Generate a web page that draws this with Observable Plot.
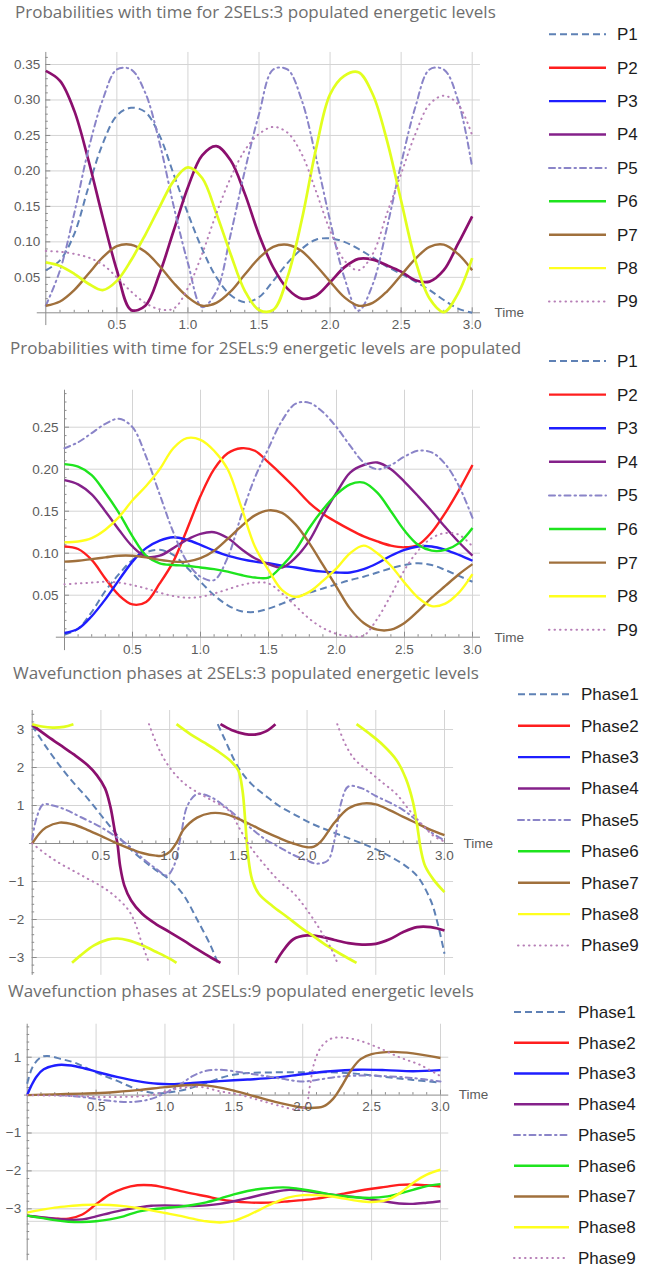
<!DOCTYPE html>
<html><head><meta charset="utf-8">
<script src="https://cdn.jsdelivr.net/npm/d3@7"></script>
<script src="https://cdn.jsdelivr.net/npm/@observablehq/plot@0.6"></script>
<style>
body{margin:0;background:#fff;}
#root{position:relative;width:657px;height:1268px;overflow:hidden;font-family:"Liberation Sans",Arial,sans-serif;background:#fff;}
.title{position:absolute;font-family:"Open Sans","Liberation Sans",sans-serif;font-size:17px;line-height:20px;color:#6e6e6e;white-space:nowrap;}
</style></head>
<body><div id="root"></div>
<script>
// ---------------- data ----------------
const time = [0,0.1,0.2,0.3,0.4,0.5,0.6,0.7,0.8,0.9,1.0,1.1,1.2,1.3,1.4,1.5,1.6,1.7,1.8,1.9,2.0,2.1,2.2,2.3,2.4,2.5,2.6,2.7,2.8,2.9,3.0];
const probNames = ["P1","P2","P3","P4","P5","P6","P7","P8","P9"];
const phaseNames = ["Phase1","Phase2","Phase3","Phase4","Phase5","Phase6","Phase7","Phase8","Phase9"];
const titles = [
  "Probabilities with time for 2SELs:3 populated energetic levels",
  "Probabilities with time for 2SELs:9 energetic levels are populated",
  "Wavefunction phases at 2SELs:3 populated energetic levels",
  "Wavefunction phases at 2SELs:9 populated energetic levels"
];
const xMajor = [0.5,1.0,1.5,2.0,2.5,3.0];
const xMinor = [0.1,0.2,0.3,0.4,0.6,0.7,0.8,0.9,1.1,1.2,1.3,1.4,1.6,1.7,1.8,1.9,2.1,2.2,2.3,2.4,2.6,2.7,2.8,2.9];
const yTicks1 = [0.05,0.10,0.15,0.20,0.25,0.30,0.35];
const yTicks2 = [0.05,0.10,0.15,0.20,0.25];
const yTicks3 = [-3,-2,-1,1,2,3];
const yTicks4 = [-3,-2,-1,1];
const yGrid4 = [1,-1,-2,-3,-3.33];

// panel 1: probabilities, 3 populated levels
const p3_P1 = [0.06,0.074,0.111,0.177,0.238,0.278,0.289,0.283,0.25,0.195,0.14,0.09,0.05,0.025,0.015,0.022,0.045,0.07,0.09,0.103,0.105,0.1,0.09,0.078,0.065,0.055,0.044,0.032,0.018,0.006,0.0];
const p3_P4 = [0.341,0.327,0.285,0.215,0.135,0.06,0.004,0.01,0.055,0.116,0.177,0.222,0.235,0.215,0.168,0.11,0.064,0.034,0.02,0.024,0.043,0.064,0.076,0.075,0.067,0.058,0.046,0.044,0.06,0.097,0.136];
const p3_P5 = [0.01,0.06,0.14,0.23,0.30,0.343,0.343,0.31,0.24,0.15,0.07,0.008,0.03,0.11,0.2,0.28,0.343,0.343,0.3,0.22,0.13,0.05,0.003,0.04,0.12,0.21,0.29,0.343,0.343,0.3,0.205];
const p3_P7 = [0.01,0.016,0.032,0.055,0.078,0.094,0.096,0.086,0.066,0.042,0.022,0.01,0.014,0.03,0.054,0.077,0.093,0.096,0.087,0.067,0.044,0.022,0.01,0.014,0.03,0.053,0.076,0.093,0.096,0.083,0.06];
const p3_P8 = [0.071,0.066,0.055,0.041,0.032,0.045,0.074,0.11,0.149,0.186,0.205,0.19,0.14,0.083,0.031,0.004,0.004,0.05,0.13,0.23,0.308,0.334,0.339,0.308,0.243,0.158,0.074,0.02,0.001,0.027,0.077];
const p3_P9 = [0.087,0.086,0.083,0.078,0.068,0.05,0.03,0.014,0.005,0.006,0.035,0.083,0.14,0.19,0.229,0.252,0.262,0.254,0.224,0.172,0.116,0.074,0.06,0.083,0.14,0.196,0.252,0.294,0.306,0.294,0.25];

// panel 2: probabilities, 9 populated levels
const p9_P1 = [0.003,0.01,0.03,0.055,0.075,0.092,0.101,0.104,0.098,0.083,0.066,0.05,0.038,0.031,0.03,0.034,0.04,0.047,0.053,0.058,0.063,0.068,0.072,0.077,0.082,0.086,0.088,0.086,0.08,0.073,0.066];
const p9_P2 = [0.108,0.105,0.092,0.07,0.05,0.039,0.042,0.064,0.09,0.128,0.168,0.2,0.219,0.225,0.222,0.208,0.193,0.177,0.16,0.147,0.137,0.128,0.12,0.114,0.109,0.107,0.11,0.125,0.148,0.175,0.205];
const p9_P3 = [0.005,0.01,0.025,0.045,0.068,0.09,0.106,0.115,0.119,0.116,0.11,0.103,0.097,0.093,0.09,0.088,0.085,0.083,0.08,0.078,0.077,0.077,0.081,0.088,0.097,0.104,0.108,0.108,0.104,0.098,0.091];
const p9_P4 = [0.187,0.182,0.17,0.15,0.128,0.108,0.096,0.097,0.106,0.116,0.123,0.125,0.118,0.105,0.094,0.087,0.083,0.095,0.115,0.145,0.172,0.196,0.205,0.208,0.2,0.185,0.168,0.15,0.131,0.113,0.097];
const p9_P5 = [0.225,0.232,0.243,0.254,0.26,0.25,0.215,0.17,0.125,0.09,0.072,0.068,0.095,0.145,0.19,0.225,0.258,0.278,0.279,0.268,0.25,0.228,0.208,0.2,0.205,0.215,0.222,0.22,0.206,0.18,0.142];
const p9_P6 = [0.206,0.203,0.193,0.172,0.148,0.12,0.097,0.088,0.086,0.085,0.083,0.081,0.078,0.074,0.071,0.071,0.085,0.104,0.13,0.152,0.17,0.182,0.184,0.172,0.15,0.127,0.11,0.103,0.104,0.112,0.13];
const p9_P7 = [0.09,0.091,0.093,0.095,0.097,0.097,0.095,0.092,0.09,0.09,0.094,0.103,0.117,0.132,0.145,0.151,0.148,0.134,0.112,0.086,0.06,0.034,0.017,0.009,0.009,0.017,0.031,0.047,0.061,0.075,0.087];
const p9_P8 = [0.113,0.114,0.118,0.128,0.143,0.163,0.18,0.2,0.225,0.237,0.235,0.222,0.2,0.155,0.108,0.08,0.056,0.048,0.054,0.067,0.082,0.1,0.109,0.1,0.085,0.065,0.047,0.037,0.04,0.053,0.075];
const p9_P9 = [0.063,0.064,0.065,0.066,0.065,0.062,0.058,0.053,0.049,0.047,0.048,0.052,0.057,0.062,0.065,0.064,0.052,0.037,0.022,0.011,0.004,0.001,0.002,0.022,0.05,0.08,0.103,0.118,0.124,0.122,0.108];

// panel 3: phases, 3 populated levels ([time, phase] pairs, null = wrap break)
const ph3_1 = [[0,3.1],[0.1,2.55],[0.2,2.05],[0.3,1.6],[0.4,1.2],[0.5,0.75],[0.6,0.3],[0.7,-0.1],[0.8,-0.42],[0.9,-0.7],[1.0,-0.95],[1.1,-1.35],[1.2,-2.0],[1.3,-2.7],[1.35,-3.14],null,
  [1.35,3.14],[1.4,2.75],[1.5,2.0],[1.6,1.55],[1.7,1.25],[1.8,0.98],[1.9,0.78],[2.0,0.58],[2.1,0.42],[2.2,0.28],[2.3,0.14],[2.4,0.0],[2.5,-0.15],[2.6,-0.33],[2.7,-0.55],[2.8,-0.85],[2.9,-1.5],[2.95,-2.1],[3.0,-2.9]];
const ph3_4 = [[0,3.12],[0.1,2.85],[0.2,2.6],[0.3,2.35],[0.4,2.07],[0.47,1.8],[0.53,1.45],[0.57,0.95],[0.6,0.35],[0.62,0],[0.64,-0.6],[0.67,-1.1],[0.72,-1.5],[0.8,-1.85],[0.9,-2.12],[1.0,-2.33],[1.1,-2.55],[1.2,-2.78],[1.3,-3.0],[1.37,-3.14],null,
  [1.37,3.14],[1.45,2.99],[1.55,2.88],[1.63,2.87],[1.7,2.95],[1.77,3.14],null,
  [1.77,-3.14],[1.82,-2.85],[1.9,-2.52],[2.0,-2.42],[2.1,-2.45],[2.2,-2.54],[2.3,-2.62],[2.4,-2.66],[2.5,-2.64],[2.6,-2.52],[2.7,-2.33],[2.8,-2.2],[2.9,-2.2],[3.0,-2.29]];
const ph3_5 = [[0,0.1],[0.03,0.65],[0.08,1.03],[0.15,1.0],[0.25,0.88],[0.35,0.7],[0.5,0.43],[0.6,0.2],[0.7,-0.05],[0.8,-0.38],[0.9,-0.66],[0.98,-0.84],[1.03,-0.6],[1.08,0.17],[1.13,1.0],[1.2,1.3],[1.3,1.22],[1.4,0.98],[1.5,0.68],[1.6,0.38],[1.7,0.1],[1.8,-0.1],[1.9,-0.3],[2.0,-0.45],[2.07,-0.53],[2.15,-0.45],[2.2,0.1],[2.25,1.1],[2.3,1.5],[2.4,1.45],[2.5,1.25],[2.6,1.08],[2.7,0.88],[2.8,0.6],[2.9,0.3],[3.0,0.08]];
const ph3_7 = [[0,0],[0.05,0.25],[0.1,0.42],[0.2,0.55],[0.3,0.5],[0.4,0.36],[0.5,0.2],[0.6,0.03],[0.7,-0.12],[0.8,-0.25],[0.9,-0.32],[0.95,-0.32],[1.0,-0.22],[1.05,0.02],[1.1,0.36],[1.2,0.68],[1.3,0.8],[1.4,0.78],[1.5,0.65],[1.6,0.48],[1.7,0.3],[1.8,0.14],[1.9,0.0],[2.0,-0.1],[2.05,-0.08],[2.1,0.05],[2.2,0.55],[2.3,0.92],[2.4,1.05],[2.5,1.03],[2.6,0.88],[2.7,0.7],[2.8,0.53],[2.9,0.36],[3.0,0.22]];
const ph3_8 = [[0,3.14],[0.07,3.08],[0.15,3.05],[0.23,3.07],[0.3,3.14],null,
  [0.29,-3.14],[0.35,-2.95],[0.45,-2.68],[0.55,-2.53],[0.62,-2.5],[0.7,-2.55],[0.8,-2.68],[0.9,-2.85],[1.0,-3.03],[1.05,-3.14],null,
  [1.05,3.14],[1.15,2.88],[1.25,2.66],[1.35,2.43],[1.45,2.15],[1.5,1.92],[1.53,1.4],[1.55,0.6],[1.57,-0.3],[1.6,-0.95],[1.65,-1.33],[1.75,-1.65],[1.85,-1.92],[1.95,-2.2],[2.05,-2.45],[2.15,-2.7],[2.25,-2.92],[2.36,-3.14],null,
  [2.36,3.14],[2.45,2.9],[2.55,2.6],[2.65,2.2],[2.72,1.7],[2.77,1.1],[2.8,0.5],[2.83,-0.2],[2.86,-0.6],[2.92,-0.95],[3.0,-1.28]];
const ph3_9 = [[0,0],[0.1,-0.28],[0.2,-0.52],[0.3,-0.72],[0.4,-0.92],[0.5,-1.12],[0.6,-1.38],[0.7,-1.75],[0.75,-2.1],[0.8,-2.65],[0.85,-3.14],null,
  [0.85,3.14],[0.92,2.5],[1.0,2.0],[1.1,1.6],[1.2,1.35],[1.3,1.15],[1.4,0.95],[1.45,0.8],[1.5,0.45],[1.6,-0.15],[1.7,-0.6],[1.8,-1.0],[1.9,-1.3],[2.0,-1.75],[2.1,-2.3],[2.18,-2.8],[2.22,-3.14],null,
  [2.22,3.14],[2.28,2.6],[2.35,2.2],[2.45,1.9],[2.55,1.6],[2.65,1.3],[2.75,0.85],[2.85,0.45],[2.92,0.2],[3.0,0.05]];

// panel 4: phases, 9 populated levels
const ph9_1 = [[0,0.3],[0.04,0.75],[0.1,1.0],[0.15,1.03],[0.25,0.95],[0.35,0.85],[0.45,0.68],[0.55,0.52],[0.65,0.38],[0.75,0.22],[0.85,0.1],[0.95,0.05],[1.05,0.08],[1.15,0.15],[1.3,0.32],[1.45,0.5],[1.6,0.58],[1.8,0.6],[2.0,0.6],[2.2,0.6],[2.4,0.56],[2.6,0.48],[2.8,0.4],[3.0,0.33]];
const ph9_2 = [-3.18,-3.23,-3.26,-3.26,-3.15,-2.88,-2.62,-2.46,-2.38,-2.38,-2.44,-2.52,-2.6,-2.67,-2.75,-2.8,-2.83,-2.84,-2.83,-2.8,-2.77,-2.73,-2.67,-2.6,-2.53,-2.47,-2.42,-2.37,-2.36,-2.38,-2.41];
const ph9_3 = [[0,0],[0.03,0.25],[0.07,0.5],[0.12,0.68],[0.2,0.78],[0.25,0.8],[0.35,0.76],[0.45,0.67],[0.55,0.57],[0.65,0.48],[0.8,0.37],[0.95,0.3],[1.05,0.29],[1.2,0.32],[1.4,0.37],[1.6,0.41],[1.8,0.46],[2.0,0.55],[2.2,0.63],[2.4,0.67],[2.6,0.66],[2.8,0.63],[3.0,0.66]];
const ph9_4 = [-3.18,-3.22,-3.26,-3.29,-3.28,-3.2,-3.11,-3.03,-2.97,-2.92,-2.91,-2.92,-2.93,-2.91,-2.87,-2.8,-2.72,-2.63,-2.55,-2.5,-2.52,-2.57,-2.62,-2.66,-2.7,-2.76,-2.81,-2.86,-2.87,-2.84,-2.8];
const ph9_5 = [[0,0],[0.2,0.0],[0.4,-0.05],[0.55,-0.13],[0.7,-0.18],[0.8,-0.17],[0.9,-0.1],[1.0,0.05],[1.1,0.25],[1.2,0.5],[1.3,0.64],[1.4,0.67],[1.55,0.6],[1.7,0.52],[1.85,0.43],[2.0,0.36],[2.1,0.4],[2.25,0.48],[2.45,0.52],[2.6,0.5],[2.8,0.45],[3.0,0.36]];
const ph9_6 = [-3.18,-3.24,-3.3,-3.34,-3.35,-3.33,-3.28,-3.2,-3.08,-3.02,-2.98,-2.95,-2.9,-2.83,-2.73,-2.62,-2.53,-2.47,-2.44,-2.44,-2.49,-2.55,-2.62,-2.67,-2.7,-2.71,-2.68,-2.6,-2.5,-2.4,-2.35];
const ph9_7 = [[0,0],[0.2,0.02],[0.4,0.04],[0.6,0.07],[0.8,0.13],[1.0,0.21],[1.15,0.26],[1.25,0.27],[1.35,0.23],[1.5,0.12],[1.65,-0.03],[1.8,-0.18],[1.95,-0.3],[2.05,-0.34],[2.15,-0.3],[2.22,-0.1],[2.28,0.22],[2.35,0.65],[2.42,0.95],[2.5,1.08],[2.65,1.14],[2.8,1.1],[3.0,0.98]];
const ph9_8 = [-3.1,-3.03,-2.97,-2.93,-2.9,-2.89,-2.9,-2.93,-2.98,-3.04,-3.11,-3.18,-3.26,-3.33,-3.36,-3.32,-3.18,-3.0,-2.83,-2.7,-2.64,-2.64,-2.67,-2.73,-2.79,-2.82,-2.78,-2.6,-2.32,-2.1,-1.97];
const ph9_9 = [[0,0],[0.3,-0.02],[0.6,-0.05],[0.9,0.0],[1.1,0.18],[1.25,0.22],[1.4,0.1],[1.55,0.0],[1.7,-0.15],[1.85,-0.3],[1.95,-0.38],[2.02,-0.3],[2.05,0.2],[2.08,0.8],[2.13,1.25],[2.2,1.48],[2.28,1.52],[2.4,1.45],[2.55,1.25],[2.7,1.0],[2.85,0.8],[3.0,0.5]];

// ---------------- styles ----------------
const palette = ["#5e81b5","#ff1e1e","#1e1eff","#84218a","#8a84c8","#1ee41e","#a0703c","#ffff1e","#b77fb7"];
const dashes  = ["7,4",null,null,null,"6,4,1.5,4",null,null,null,"0.5,5"];
const mixedP4 = "#8b0f6e";   // overlapping P2/P3/P4 colour as seen
const mixedP8 = "#e2ff1e";   // overlapping P6/P8 colour as seen
function lineStyle(i, override) {
  const dash = dashes[i];
  return {
    stroke: override || palette[i],
    strokeWidth: dash ? 2 : (override ? 2.7 : 2.4),
    strokeDasharray: dash || undefined,
    strokeLinecap: i === 8 || i === 4 ? "round" : "butt"
  };
}
const zipT = vals => vals.map((v, k) => [time[k], v]);
const rows = pairs => pairs.map(p => p ? {x: p[0], y: p[1]} : {x: NaN, y: NaN});

const root = document.getElementById("root");
const AX = "#8c8c8c", GRID = "#d4d4d4", LBL = "#5c5c5c";
const FONT = "Liberation Sans, Arial, sans-serif";

function makePanel(cfg) {
  const {top, height, xr, yd, yr} = cfg;
  const yPerPx = (yd[1] - yd[0]) / (yr[0] - yr[1]);
  const xPerPx = 3 / (xr[1] - xr[0]);
  const marks = [
    Plot.ruleX(xMajor, {x: d => d, y1: cfg.yAxis[0], y2: cfg.yAxis[1], stroke: GRID, strokeWidth: 1}),
    Plot.ruleY(cfg.yGrid, {y: d => d, x1: 0, x2: cfg.xEnd, stroke: GRID, strokeWidth: 1}),
    Plot.ruleY([0], {x1: cfg.xStart, x2: cfg.xEnd, stroke: AX, strokeWidth: 1}),
    Plot.ruleX([0], {y1: cfg.yAxis[0], y2: cfg.yAxis[1], stroke: AX, strokeWidth: 1}),
    Plot.ruleX(xMinor, {x: d => d, y1: 0, y2: 2.5 * yPerPx, stroke: AX}),
    Plot.ruleX(xMajor, {x: d => d, y1: 0, y2: 5 * yPerPx, stroke: AX}),
    Plot.ruleY(cfg.yMinor, {y: d => d, x1: 0, x2: 2.5 * xPerPx, stroke: AX}),
    Plot.ruleY(cfg.yTicks, {y: d => d, x1: 0, x2: 5 * xPerPx, stroke: AX})
  ];
  for (const s of cfg.series) {
    marks.push(Plot.line(rows(s.data), {x: "x", y: "y", curve: "catmull-rom", ...lineStyle(s.i, s.color)}));
  }
  marks.push(
    Plot.text(xMajor, {x: d => d, y: 0, dy: cfg.xDy, text: d => d.toFixed(1), fontSize: 13.5, fill: LBL}),
    Plot.text(cfg.yTicks, {x: 0, y: d => d, dx: cfg.yDx, textAnchor: "end", text: cfg.yFmt, fontSize: 13.5, fill: LBL}),
    Plot.text(["Time"], {x: cfg.xEnd, y: 0, dx: cfg.timeDx, textAnchor: "start", text: d => d, fontSize: 13.5, fill: LBL})
  );
  const svg = Plot.plot({
    width: 657, height,
    x: {domain: [0, 3], range: xr, axis: null},
    y: {domain: yd, range: [yr[0] - top, yr[1] - top], axis: null},
    style: {fontFamily: FONT, background: "transparent", overflow: "visible"},
    marks
  });
  svg.style.position = "absolute";
  svg.style.left = "0px";
  svg.style.top = top + "px";
  root.appendChild(svg);
}

const minor01 = (lo, hi, skip) => { const out = []; for (let k = Math.round(lo*100); k <= Math.round(hi*100); k++) { if (k % skip !== 0) out.push(k/100); } return out; };
const minorPhase = (lo, hi) => { const out = []; for (let k = Math.round(lo*5); k <= Math.round(hi*5); k++) { if (k % 5 !== 0) out.push(k/5); } return out; };

const fmt2 = d => d.toFixed(2);
const fmtInt = d => (d < 0 ? "\u2212" + Math.abs(d) : String(d));

makePanel({
  top: 28, height: 305, xr: [45.3, 471.7], yd: [0, 0.35], yr: [312.3, 64],
  yAxis: [-0.018, 0.367], xStart: -0.06, xEnd: 3.058,
  yGrid: yTicks1, yTicks: yTicks1, yMinor: minor01(0.01, 0.36, 5), yFmt: fmt2,
  xDy: 12, yDx: -5.5, timeDx: 14,
  series: [
    {i: 0, data: zipT(p3_P1)}, {i: 3, data: zipT(p3_P4), color: mixedP4}, {i: 4, data: zipT(p3_P5)},
    {i: 6, data: zipT(p3_P7)}, {i: 7, data: zipT(p3_P8), color: mixedP8}, {i: 8, data: zipT(p3_P9)}
  ]
});
makePanel({
  top: 355, height: 300, xr: [64, 472], yd: [0, 0.25], yr: [636.7, 426.7],
  yAxis: [-0.016, 0.294], xStart: -0.06, xEnd: 3.059,
  yGrid: yTicks2, yTicks: yTicks2, yMinor: minor01(0.01, 0.29, 5), yFmt: fmt2,
  xDy: 12, yDx: -6, timeDx: 14,
  series: [
    {i: 0, data: zipT(p9_P1)}, {i: 1, data: zipT(p9_P2)}, {i: 2, data: zipT(p9_P3)}, {i: 3, data: zipT(p9_P4)},
    {i: 4, data: zipT(p9_P5)}, {i: 5, data: zipT(p9_P6)}, {i: 6, data: zipT(p9_P7)}, {i: 7, data: zipT(p9_P8)},
    {i: 8, data: zipT(p9_P9)}
  ]
});
makePanel({
  top: 680, height: 300, xr: [31.7, 444], yd: [-3, 3], yr: [957, 729],
  yAxis: [-3.47, 3.5], xStart: -0.02, xEnd: 3.066,
  yGrid: yTicks3, yTicks: yTicks3, yMinor: minorPhase(-3.4, 3.4), yFmt: fmtInt,
  xDy: 12, yDx: -8, timeDx: 10,
  series: [
    {i: 0, data: ph3_1}, {i: 3, data: ph3_4, color: mixedP4}, {i: 4, data: ph3_5},
    {i: 6, data: ph3_7}, {i: 7, data: ph3_8, color: mixedP8}, {i: 8, data: ph3_9}
  ]
});
makePanel({
  top: 1000, height: 268, xr: [26.7, 440], yd: [-3, 1], yr: [1208.3, 1056.7],
  yAxis: [-4.37, 1.87], xStart: -0.02, xEnd: 3.06,
  yGrid: yGrid4, yTicks: yTicks4, yMinor: minorPhase(-4.2, 1.8), yFmt: fmtInt,
  xDy: 12, yDx: -6, timeDx: 10,
  series: [
    {i: 0, data: ph9_1}, {i: 1, data: zipT(ph9_2)}, {i: 2, data: ph9_3}, {i: 3, data: zipT(ph9_4)},
    {i: 4, data: ph9_5}, {i: 5, data: zipT(ph9_6)}, {i: 6, data: ph9_7}, {i: 7, data: zipT(ph9_8)},
    {i: 8, data: ph9_9}
  ]
});

// titles
const titlePos = [[15, 2], [10, 338], [13, 662.5], [8, 981]];
titles.forEach((t, k) => {
  const d = document.createElement("div");
  d.className = "title";
  d.style.left = titlePos[k][0] + "px";
  d.style.top = titlePos[k][1] + "px";
  d.textContent = t;
  root.appendChild(d);
});

// legends
const legends = [
  {names: probNames, x1: 549, x2: 606, tx: 617, y0: 34.3, dy: 33.4},
  {names: probNames, x1: 549, x2: 606, tx: 617, y0: 361, dy: 33.6},
  {names: phaseNames, x1: 518, x2: 570, tx: 581, y0: 694.3, dy: 31.4},
  {names: phaseNames, x1: 514, x2: 569, tx: 578, y0: 1012, dy: 30.75}
];
const leg = d3.select(root).append("svg").attr("width", 657).attr("height", 1268)
  .style("position", "absolute").style("left", 0).style("top", 0).style("pointer-events", "none");
for (const L of legends) {
  L.names.forEach((n, k) => {
    const y = L.y0 + k * L.dy;
    const st = lineStyle(k);
    leg.append("line").attr("x1", L.x1).attr("x2", L.x2).attr("y1", y).attr("y2", y)
      .attr("stroke", st.stroke).attr("stroke-width", st.strokeWidth)
      .attr("stroke-dasharray", st.strokeDasharray || null).attr("stroke-linecap", st.strokeLinecap);
    leg.append("text").attr("x", L.tx).attr("y", y).attr("dy", "0.35em")
      .attr("font-family", FONT).attr("font-size", 17).attr("fill", "#1c1c1c").text(n);
  });
}
</script></body></html>
